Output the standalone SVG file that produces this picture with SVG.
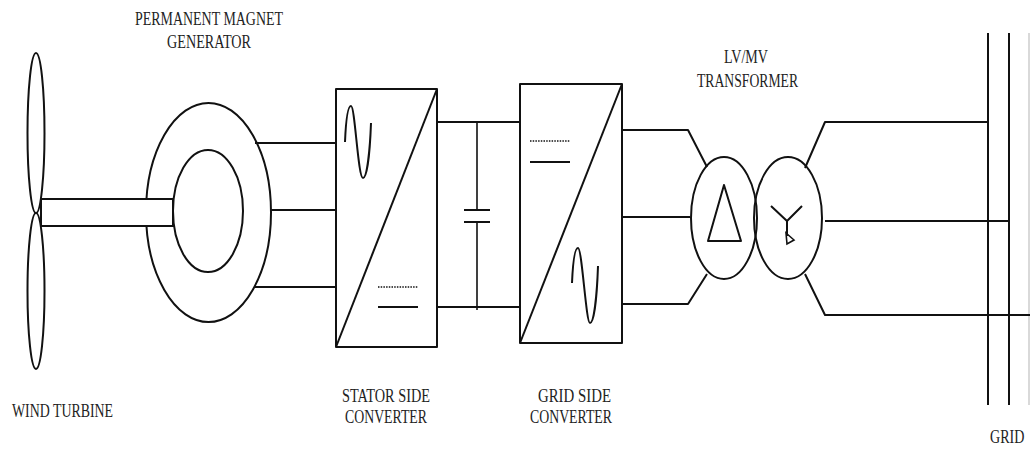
<svg xmlns="http://www.w3.org/2000/svg" width="1030" height="451" viewBox="0 0 1030 451">
  <style>
    .ln { fill: none; stroke: #111; stroke-width: 2; stroke-linejoin: round; }
    .fw { fill: #fff; stroke: #111; stroke-width: 2; }
    .thin { fill: none; stroke: #111; stroke-width: 1.6; }
    .dot { fill: none; stroke: #111; stroke-width: 1.6; stroke-dasharray: 1.5 1.2; }
    .lbl { font-family: "Liberation Serif", "Times New Roman", serif; font-size: 19px; fill: #222; }
  </style>
  <rect width="1030" height="451" fill="#fff"/>

  <!-- wind turbine: two blades and shaft -->
  <g id="wind-turbine">
    <ellipse class="ln" cx="36" cy="133" rx="8.5" ry="80"/>
    <ellipse class="ln" cx="36" cy="291" rx="8.5" ry="78"/>
    <text class="lbl" x="12" y="417" textLength="101" lengthAdjust="spacingAndGlyphs">WIND TURBINE</text>
  </g>

  <!-- permanent magnet generator -->
  <g id="generator">
    <ellipse class="ln" cx="208.5" cy="212.5" rx="62.5" ry="109.5"/>
    <rect class="fw" x="41" y="199" width="132" height="27" stroke="none"/>
    <path class="ln" d="M41,199 H173 M41,226 H173"/>
    <ellipse class="ln" cx="208" cy="211" rx="35" ry="61"/>
    <text class="lbl" x="135" y="25" textLength="148" lengthAdjust="spacingAndGlyphs">PERMANENT MAGNET</text>
    <text class="lbl" x="167" y="48" textLength="84" lengthAdjust="spacingAndGlyphs">GENERATOR</text>
  </g>

  <!-- stator side converter (AC/DC) -->
  <g id="stator-converter">
    <rect class="ln" x="336" y="89" width="101" height="258"/>
    <path class="ln" d="M336,347 L437,89"/>
    <path class="ln" d="M345,142 C346,118 348,106 351,106 C355,106 358,178 363,178 C367,178 370,150 371,123"/>
    <path class="dot" d="M378,287 H418"/>
    <path class="ln" d="M378,307 H418"/>
    <text class="lbl" x="342" y="402" textLength="88" lengthAdjust="spacingAndGlyphs">STATOR SIDE</text>
    <text class="lbl" x="345" y="423" textLength="82" lengthAdjust="spacingAndGlyphs">CONVERTER</text>
  </g>

  <!-- DC link capacitor -->
  <g id="dc-link">
    <path class="thin" d="M477,122 V210 M477,222 V310"/>
    <path class="ln" d="M464,210 H490 M464,222 H490" stroke-width="2.4"/>
  </g>

  <!-- grid side converter (DC/AC) -->
  <g id="grid-converter">
    <rect class="ln" x="520" y="84" width="102" height="259"/>
    <path class="ln" d="M520,343 L622,84"/>
    <path class="dot" d="M530,141 H570"/>
    <path class="ln" d="M530,162 H570"/>
    <path class="ln" d="M572,283 C573,260 575,248 578,248 C582,248 586,323 590,323 C594,323 597,295 598,266"/>
    <text class="lbl" x="538" y="402" textLength="73" lengthAdjust="spacingAndGlyphs">GRID SIDE</text>
    <text class="lbl" x="530" y="423" textLength="82" lengthAdjust="spacingAndGlyphs">CONVERTER</text>
  </g>

  <!-- LV/MV transformer, delta / star -->
  <g id="transformer">
    <ellipse class="ln" cx="724" cy="218" rx="33" ry="61"/>
    <ellipse class="ln" cx="788" cy="218" rx="34" ry="61"/>
    <path class="ln" d="M724,185 L708,241 H741 Z"/>
    <path class="ln" d="M771,206 L787,221 L802,206 M787,221 V236"/>
    <path class="thin" d="M786,233 L794,240 L787,244 Z"/>
    <text class="lbl" x="724" y="63" textLength="44" lengthAdjust="spacingAndGlyphs">LV/MV</text>
    <text class="lbl" x="697" y="87" textLength="101" lengthAdjust="spacingAndGlyphs">TRANSFORMER</text>
  </g>

  <!-- grid busbars -->
  <g id="grid">
    <path class="ln" d="M988,33 V405 M1009,33 V405"/>
    <path d="M1029,33 V405" stroke="#ccc" stroke-width="1.5"/>
    <text class="lbl" transform="translate(990,443) scale(0.74,1)" x="0" y="0" font-size="18">GRID</text>
  </g>

  <!-- three-phase connections -->
  <g id="connectors">
    <path class="ln" d="M255,143 H336 M271,210 H336 M255,287 H336"/>
    <path class="ln" d="M437,122 H520 M437,307 H520"/>
    <path class="ln" d="M622,130 H688 L707,167 M622,217 H690 M622,304 H688 L707,274"/>
    <path class="ln" d="M805,168 L825,122 H988 M825,221 H1009 M805,274 L825,315 H1030"/>
  </g>
</svg>
